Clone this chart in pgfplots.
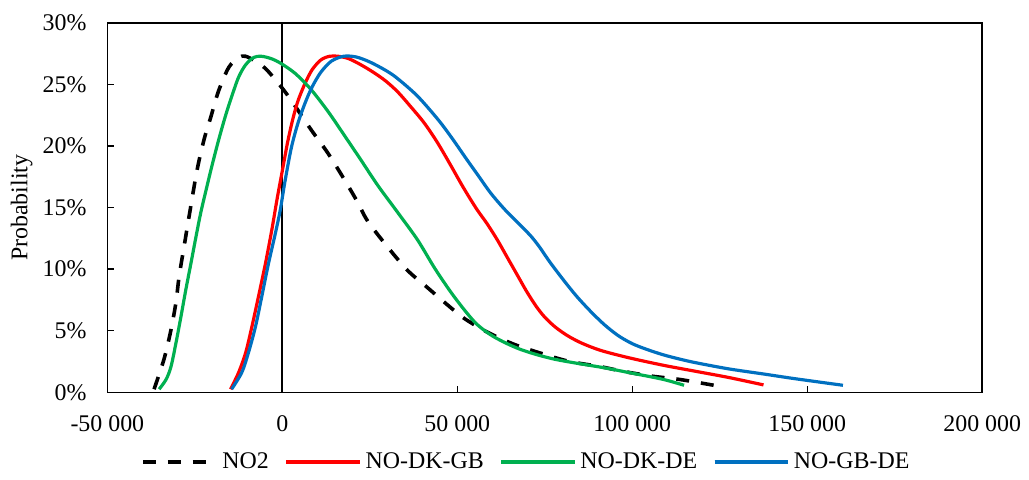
\documentclass[border={1.4pt 0pt 0pt 3.5pt}]{standalone}
\usepackage{pgfplots}
\pgfplotsset{compat=1.18}
\usepackage{fontspec}
\setmainfont{Liberation Serif}
\definecolor{xred}{RGB}{255,0,0}
\definecolor{xgreen}{RGB}{0,176,80}
\definecolor{xblue}{RGB}{0,112,192}
\begin{document}
\fontsize{12}{14}\selectfont
\begin{tikzpicture}
\begin{axis}[
  scale only axis,
  width=439.5pt, height=185.5pt,
  xmin=-50000, xmax=200000,
  ymin=0, ymax=30,
  xtick={-50000,0,50000,100000,150000,200000},
  xticklabels={-50 000,0,50 000,100 000,150 000,200 000},
  scaled x ticks=false,
  ytick={0,5,10,15,20,25,30},
  yticklabels={0\%,5\%,10\%,15\%,20\%,25\%,30\%},
  tick align=inside,
  xtick pos=bottom, ytick pos=left,
  major tick length=3.2pt,
  tick style={black, line width=0.75pt},
  axis line style={black, line width=0.75pt},
  xticklabel style={yshift=-7.3pt, font=\fontsize{12}{14}\selectfont},
  yticklabel style={xshift=-6.3pt, font=\fontsize{12}{14}\selectfont},
  ylabel={Probability},
  ylabel style={font=\fontsize{13}{15}\selectfont},
  every axis y label/.style={at={(axis description cs:-0.098,0.5)}, rotate=90, anchor=center},
  legend columns=4,
  legend style={at={(axis description cs:0.48,-0.1887)}, anchor=center, draw=none, fill=none,
    font=\fontsize{12}{14}\selectfont,
    /tikz/every even column/.append style={column sep=6pt}},
  legend image code/.code={\draw[#1] (0pt,0pt) -- (34.5pt,0pt); \path (0pt,0pt) -- (37pt,0pt);},
]
\addplot[black, line width=1pt, forget plot] coordinates {(0,0) (0,30)};

\addplot[black, line width=1.8pt, dash pattern=on 6.5pt off 6pt, smooth] coordinates {
(-36650,0.25) (-33800,2.7) (-31800,5.1) (-30400,7.3) (-29500,9.4) (-28100,11.8)
(-26700,14.2) (-24400,18.0) (-22400,20.5) (-20500,22.3) (-18200,24.5) (-15300,26.4)
(-12500,27.2) (-10500,27.3) (-7700,26.9) (-4800,26.3) (-2000,25.4) (0,24.7) (2600,23.7)
(8300,21.3) (13100,19.4) (17900,17.2) (21600,15.4) (24400,13.9) (30100,11.8) (35800,9.9)
(41500,8.5) (47200,7.1) (52000,6.0) (58500,4.9) (66200,3.9) (74700,3.1) (82100,2.5)
(90600,2.1) (97400,1.7) (105900,1.3) (113400,1.05) (123300,0.57)};
\addlegendentry{NO2}

\addplot[xred, line width=1.6pt, smooth] coordinates {
(-14800,0.25) (-12500,1.6) (-10500,3.2) (-8800,5.2) (-6800,7.8) (-4800,10.5) (-3000,13.2)
(-1500,15.7) (0,18.0) (1500,20.3) (3000,22.2) (4500,23.7) (6500,25.1) (8500,26.2)
(11000,27.0) (13500,27.3) (16000,27.3) (19000,27.1) (22500,26.6) (26000,26.0) (29500,25.3)
(33000,24.4) (36700,23.2) (40500,21.9) (44300,20.3) (48000,18.5) (51800,16.6) (55500,14.9)
(58500,13.7) (61400,12.4) (64200,11.0) (67000,9.6) (69800,8.2) (72500,7.0) (75000,6.1)
(78000,5.3) (81500,4.6) (85500,4.0) (91000,3.4) (99100,2.8) (108800,2.2) (118200,1.7)
(127600,1.2) (137500,0.6)};
\addlegendentry{NO-DK-GB}

\addplot[xgreen, line width=1.6pt, smooth] coordinates {
(-35200,0.25) (-33200,1.05) (-31800,2.1) (-30400,4.0) (-29000,6.1) (-27600,8.3)
(-26100,10.5) (-24700,12.6) (-23300,14.6) (-21900,16.3) (-20200,18.3) (-18200,20.5)
(-16200,22.5) (-14500,24.0) (-12500,25.6) (-10500,26.6) (-8200,27.2) (-6000,27.3)
(-3100,27.1) (-300,26.7) (3700,25.9) (8200,24.6) (13100,22.8) (17900,20.8) (22400,18.9)
(27300,16.8) (33000,14.6) (38600,12.4) (43500,10.1) (48000,8.2) (52000,6.7) (55700,5.5)
(60500,4.5) (67900,3.5) (77600,2.7) (91800,2.0) (99100,1.6) (108800,1.05) (114800,0.57)};
\addlegendentry{NO-DK-DE}

\addplot[xblue, line width=1.6pt, smooth] coordinates {
(-14500,0.25) (-11600,1.6) (-9700,3.2) (-7700,5.3) (-6000,7.6) (-4000,10.4) (-2000,12.9)
(-600,14.8) (800,17.2) (2600,19.9) (4500,21.9) (6500,23.5) (8500,24.8) (11000,26.0)
(14000,26.9) (17500,27.3) (21000,27.25) (24500,26.9) (28000,26.4) (31500,25.8) (35000,25.0)
(38500,24.1) (42000,23.0) (45500,21.8) (49100,20.4) (52500,19.0) (56000,17.6) (59500,16.2)
(63400,14.9) (67900,13.6) (71000,12.7) (73500,11.8) (76400,10.6) (80400,9.1) (84100,7.8)
(88000,6.6) (92000,5.5) (96000,4.6) (100000,3.95) (104000,3.5) (108800,3.05) (113500,2.7)
(118200,2.4) (127600,1.9) (137200,1.5) (146600,1.1) (160200,0.57)};
\addlegendentry{NO-GB-DE}
\end{axis}
\end{tikzpicture}
\end{document}
